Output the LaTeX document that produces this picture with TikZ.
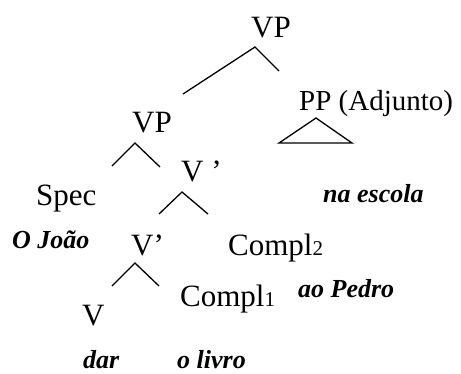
\documentclass[tikz,border=0pt]{standalone}
\usepackage{fontspec}
\setmainfont{Liberation Serif}
\begin{document}
\begin{tikzpicture}[x=1pt,y=-1pt,
  lbl/.style={inner sep=0pt,anchor=base west,font=\fontsize{31}{31}\selectfont},
  word/.style={inner sep=0pt,anchor=base west,font=\fontsize{26}{26}\selectfont\bfseries\itshape},
  branch/.style={line width=1.3pt,line join=miter}]
\useasboundingbox (0,0) rectangle (461,373);
\newcommand{\sub}[1]{{\fontsize{21}{21}\selectfont #1}}

% category labels
\node[lbl] (vptop) at (251,37) {VP};
\node[lbl,font=\fontsize{29}{29}\selectfont] (pp) at (299,110) {PP (Adjunto)};
\node[lbl] (vpmid) at (132,132) {VP};
\node[lbl] (vbar1) at (181,181) {V ’};
\node[lbl] (spec)  at (36,205) {Spec};
\node[lbl] (vbar2) at (131,255) {V’};
\node[lbl] (comp2) at (228,255) {Compl\sub{2}};
\node[lbl] (comp1) at (180,306) {Compl\sub{1}};
\node[lbl] (vhead) at (82,325) {V};

% lexical material
\node[word] (escola) at (323,202) {na escola};
\node[word] (joao)   at (12,248) {O João};
\node[word] (pedro)  at (298,297) {ao Pedro};
\node[word] (dar)    at (83,368) {dar};
\node[word] (livro)  at (177,368) {o livro};

% branch points
\coordinate (a1) at (255,47);  \coordinate (l1) at (183,94);  \coordinate (r1) at (279,71);
\coordinate (a2) at (135,143); \coordinate (l2) at (112,166); \coordinate (r2) at (160,167);
\coordinate (a3) at (182,192); \coordinate (l3) at (159,214); \coordinate (r3) at (208,214);
\coordinate (a4) at (135,263); \coordinate (l4) at (112,286); \coordinate (r4) at (159,286);
\coordinate (ta) at (316,118); \coordinate (tl) at (279,143); \coordinate (tr) at (352,143);

\draw[branch] (l1) -- (a1) -- (r1);
\draw[branch] (l2) -- (a2) -- (r2);
\draw[branch] (l3) -- (a3) -- (r3);
\draw[branch] (l4) -- (a4) -- (r4);
\draw[branch] (ta) -- (tl) -- (tr) -- cycle;
\end{tikzpicture}
\end{document}
